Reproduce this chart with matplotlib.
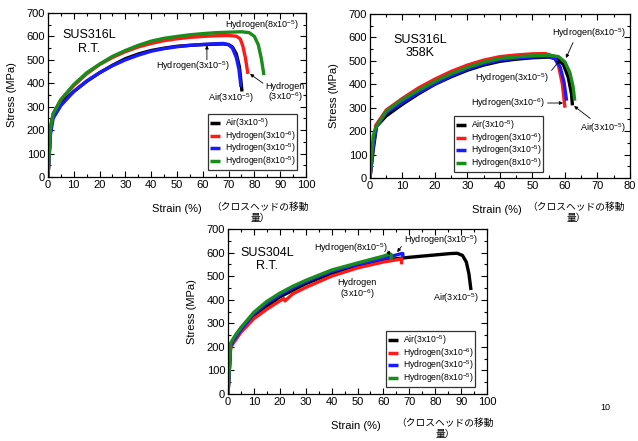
import matplotlib
matplotlib.use("Agg")
import matplotlib.pyplot as plt
from matplotlib.ticker import MultipleLocator

plt.rcParams['font.family'] = ['Liberation Sans', 'Noto Sans CJK JP', 'DejaVu Sans']
plt.rcParams['mathtext.fontset'] = 'custom'
plt.rcParams['mathtext.rm'] = 'Liberation Sans'
plt.rcParams['mathtext.it'] = 'Liberation Sans:italic'

# --------------------------------------------------
# Data (strain %, stress MPa)
# --------------------------------------------------
labels = ['Air(3x10$^{-5}$)', 'Hydrogen(3x10$^{-6}$)',
          'Hydrogen(3x10$^{-5}$)', 'Hydrogen(8x10$^{-5}$)']
colors = ['black', '#ff1a1a', '#1a1aff', '#1a8c1a']

# SUS316L R.T.
a_air_x = [0, 1, 1.5, 3, 5, 10, 15, 20, 25, 30, 35, 40, 45, 50, 55, 60, 65, 68, 70, 71.5, 73, 74.2, 75.2]
a_air_y = [0, 200, 245, 285, 315, 365, 408, 445, 477, 505, 525, 540, 550, 558, 562, 565, 567, 568, 565, 555, 525, 470, 365]
a_h6_x = [0, 1, 2, 5, 10, 15, 20, 25, 30, 35, 40, 45, 50, 55, 60, 65, 70, 73, 74.5, 75.5, 76.5, 77.5]
a_h6_y = [0, 205, 270, 330, 390, 440, 480, 510, 535, 555, 570, 582, 590, 596, 600, 603, 604, 601, 590, 560, 510, 440]
a_h5_x = [0, 1, 2, 5, 10, 15, 20, 25, 30, 35, 40, 45, 50, 55, 60, 65, 68, 70, 71.5, 73, 74, 74.8]
a_h5_y = [0, 185, 250, 305, 365, 410, 445, 475, 500, 520, 537, 548, 556, 562, 566, 569, 570, 565, 550, 510, 460, 385]
a_h8_x = [0, 1, 2, 5, 10, 15, 20, 25, 30, 35, 40, 45, 50, 55, 60, 65, 70, 75, 78, 80, 81.5, 82.7, 83.7]
a_h8_y = [0, 210, 270, 330, 395, 445, 482, 515, 540, 562, 580, 592, 600, 607, 612, 616, 618, 620, 616, 600, 565, 505, 435]

# SUS316L 358K
b_air_x = [0, 1, 2, 5, 10, 15, 20, 25, 30, 35, 40, 45, 50, 55, 57.5, 59.5, 61, 62, 62.3]
b_air_y = [0, 120, 220, 265, 315, 360, 400, 432, 460, 482, 498, 507, 513, 516, 510, 485, 430, 360, 310]
b_h6_x = [0, 1, 1.8, 5, 10, 15, 20, 25, 30, 35, 40, 45, 50, 54, 56.5, 58, 59.2, 60]
b_h6_y = [0, 150, 225, 290, 340, 385, 422, 455, 482, 503, 518, 525, 530, 531, 520, 480, 400, 300]
b_h5_x = [0, 1, 2, 5, 10, 15, 20, 25, 30, 35, 40, 45, 50, 55, 57, 58.5, 59.7, 60.5]
b_h5_y = [0, 140, 220, 278, 322, 365, 402, 436, 465, 487, 503, 511, 517, 518, 508, 475, 410, 330]
b_h8_x = [0, 1, 1.8, 5, 10, 15, 20, 25, 30, 35, 40, 45, 50, 55, 58, 60, 61.5, 62.5, 63]
b_h8_y = [0, 180, 215, 285, 335, 375, 412, 445, 472, 494, 510, 517, 522, 524, 518, 495, 450, 390, 330]

# SUS304L R.T.
c_air_x = [0, 1, 3, 5, 10, 20, 30, 40, 50, 60, 70, 80, 86, 88.5, 90.5, 92, 93, 93.8]
c_air_y = [0, 200, 250, 280, 330, 412, 468, 512, 545, 568, 580, 590, 596, 597, 588, 560, 510, 441]
c_h6_x = [0, 1, 2, 5, 10, 15, 20, 21.5, 22, 25, 30, 40, 50, 60, 66.5, 67, 67]
c_h6_y = [0, 195, 215, 262, 320, 360, 395, 405, 395, 425, 452, 500, 535, 560, 572, 575, 550]
c_h5_x = [0, 1, 2, 5, 10, 15, 20, 25, 30, 40, 50, 60, 65, 67, 67.5, 67.5]
c_h5_y = [0, 205, 225, 272, 340, 385, 420, 450, 476, 520, 550, 575, 590, 596, 596, 580]
c_h8_x = [0, 1, 2, 5, 10, 15, 20, 25, 30, 40, 50, 60, 62.5, 63, 63]
c_h8_y = [0, 215, 235, 282, 347, 393, 428, 457, 482, 526, 556, 585, 595, 592, 570]

xlabel_jp = '（クロスヘッドの移動\n量）'

# --------------------------------------------------
# Figure
# --------------------------------------------------
fig = plt.figure(figsize=(6.38, 4.41), dpi=100)
ax1 = fig.add_axes([0.0752, 0.5986, 0.4044, 0.3719])
ax2 = fig.add_axes([0.5799, 0.5964, 0.4075, 0.3719])
ax3 = fig.add_axes([0.3574, 0.1066, 0.406, 0.3741])

panels = [
    (ax1, [(a_air_x, a_air_y), (a_h6_x, a_h6_y), (a_h5_x, a_h5_y), (a_h8_x, a_h8_y)],
     100, 'SUS316L\nR.T.', (16, 630), (0.965, 0.043)),
    (ax2, [(b_air_x, b_air_y), (b_h6_x, b_h6_y), (b_h5_x, b_h5_y), (b_h8_x, b_h8_y)],
     80, 'SUS316L\n358K', (15.5, 615), (0.665, 0.037)),
    (ax3, [(c_air_x, c_air_y), (c_h6_x, c_h6_y), (c_h5_x, c_h5_y), (c_h8_x, c_h8_y)],
     100, 'SUS304L\nR.T.', (15, 625), (0.954, 0.042)),
]

for ax, curves, xmax, title, tpos, lpos in panels:
    for (x, y), c, lab in zip(curves, colors, labels):
        ax.plot(x, y, color=c, lw=2.4, label=lab, solid_capstyle='butt',
                solid_joinstyle='round')
    ax.set_xlim(0, xmax)
    ax.set_ylim(0, 700)
    ax.xaxis.set_major_locator(MultipleLocator(10))
    ax.xaxis.set_minor_locator(MultipleLocator(5))
    ax.yaxis.set_major_locator(MultipleLocator(100))
    ax.yaxis.set_minor_locator(MultipleLocator(50))
    ax.tick_params(which='both', direction='in', top=True, right=True,
                   labelsize=8, width=0.8, pad=2)
    ax.tick_params(which='major', length=4)
    ax.tick_params(which='minor', length=2)
    for s in ax.spines.values():
        s.set_linewidth(0.9)
    ax.set_ylabel('Stress (MPa)', fontsize=8)
    ax.set_xlabel('Strain (%)', fontsize=8)
    ax.xaxis.set_label_coords(0.5, -0.165)
    ax.yaxis.set_label_coords(-0.12, 0.5)
    ax.text(tpos[0], tpos[1], title, fontsize=9, ha='center', va='top',
            linespacing=1.15)
    leg = ax.legend(loc='lower right', bbox_to_anchor=lpos, fontsize=6.2,
                    frameon=True, fancybox=False, edgecolor='black',
                    borderaxespad=0, handlelength=1.2, handletextpad=0.5,
                    labelspacing=-0.1, borderpad=0.2)
    leg.get_frame().set_linewidth(0.9)
    for h in leg.get_lines():
        h.set_linewidth(2.5)

ax1.xaxis.set_label_coords(0.5, -0.165)
ax2.xaxis.set_label_coords(0.49, -0.165)
ax3.xaxis.set_label_coords(0.495, -0.165)

fig.text(260 / 638, 1 - 202 / 441, xlabel_jp, fontsize=7, ha='center', va='top',
         linespacing=1.1)
fig.text(576 / 638, 1 - 202 / 441, xlabel_jp, fontsize=7, ha='center', va='top',
         linespacing=1.1)
fig.text(445 / 638, 1 - 418 / 441, xlabel_jp, fontsize=7, ha='center', va='top',
         linespacing=1.1)
fig.text(605 / 638, 1 - 408 / 441, '10', fontsize=6.5, ha='center', va='center')

# --------------------------------------------------
# Annotations
# --------------------------------------------------
afs = 6.5
arr = dict(arrowstyle='-|>', color='black', lw=0.6, mutation_scale=5,
           shrinkA=0, shrinkB=0)

ax1.text(83, 650, 'Hydrogen(8x10$^{-5}$)', fontsize=afs, ha='center', va='center')
ax1.annotate('', xy=(61.6, 562), xytext=(61.6, 500), arrowprops=arr)
ax1.text(56, 472, 'Hydrogen(3x10$^{-5}$)', fontsize=afs, ha='center', va='center')
ax1.text(71, 335, 'Air(3x10$^{-5}$)', fontsize=afs, ha='center', va='center')
ax1.annotate('Hydrogen\n(3x10$^{-6}$)', xy=(78.3, 440), xytext=(92, 358),
             fontsize=afs, ha='center', va='center', linespacing=1.0,
             arrowprops=dict(arr, relpos=(0.0, 0.85)))

ax2.annotate('Hydrogen(8x10$^{-5}$)', xy=(60.3, 512), xytext=(67.4, 619),
             fontsize=afs, ha='center', va='center',
             arrowprops=dict(arr, relpos=(0.3, 0.0)))
ax2.annotate('Hydrogen(3x10$^{-5}$)', xy=(58.5, 504), xytext=(43.7, 427),
             fontsize=afs, ha='center', va='center',
             arrowprops=dict(arr, relpos=(1.0, 0.8)))
ax2.annotate('Hydrogen(3x10$^{-6}$)', xy=(59.4, 320), xytext=(42.5, 320),
             fontsize=afs, ha='center', va='center',
             arrowprops=dict(arr, relpos=(1.0, 0.5)))
ax2.annotate('Air(3x10$^{-5}$)', xy=(62.8, 307), xytext=(71.7, 213),
             fontsize=afs, ha='center', va='center',
             arrowprops=dict(arr, relpos=(0.3, 1.0)))

ax3.annotate('Hydrogen(8x10$^{-5}$)', xy=(62.5, 588), xytext=(47.5, 619),
             fontsize=afs, ha='center', va='center',
             arrowprops=dict(arr, relpos=(1.0, 0.3)))
ax3.annotate('Hydrogen(3x10$^{-5}$)', xy=(65.3, 602), xytext=(82.2, 653),
             fontsize=afs, ha='center', va='center',
             arrowprops=dict(arr, relpos=(0.0, 0.3)))
ax3.text(49.8, 443, 'Hydrogen\n(3x10$^{-6}$)', fontsize=afs, ha='center',
         va='center', linespacing=1.0)
ax3.text(88, 407, 'Air(3x10$^{-5}$)', fontsize=afs, ha='center', va='center')

fig.savefig('out.png', dpi=100)
